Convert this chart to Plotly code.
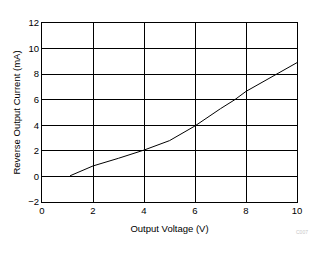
import plotly.graph_objects as go

voltage = [1.1, 2, 3, 4, 5, 6, 7, 7.56, 8, 9, 10]
current = [0.05, 0.82, 1.42, 2.06, 2.8, 3.95, 5.3, 6.0, 6.65, 7.78, 8.9]
x_ticks = [0, 2, 4, 6, 8, 10]
y_ticks = [-2, 0, 2, 4, 6, 8, 10, 12]

fig = go.Figure()
fig.add_trace(go.Scatter(x=voltage, y=current, mode="lines",
                         line=dict(color="black", width=1), showlegend=False))

font = dict(family="Liberation Sans, Arial, sans-serif", size=9.5, color="black")
fig.update_layout(
    width=326, height=254,
    margin=dict(l=42, r=29, t=23, b=52),
    paper_bgcolor="white", plot_bgcolor="white",
    font=font,
    xaxis=dict(range=[0, 10], tickvals=x_ticks, showgrid=True, gridcolor="black",
               gridwidth=1, showline=True, linecolor="black", linewidth=1, mirror=True,
               zeroline=False, ticks="", ticklen=0,
               title=dict(text="Output Voltage (V)", font=font, standoff=9)),
    yaxis=dict(range=[-2, 12], tickvals=y_ticks, showgrid=True, gridcolor="black",
               gridwidth=1, showline=True, linecolor="black", linewidth=1, mirror=True,
               zeroline=False, ticks="", ticklen=0,
               title=dict(text="Reverse Output Current (mA)", font=font, standoff=5)),
    annotations=[dict(text="C007", x=1.02, y=-0.17, xref="paper", yref="paper",
                      xanchor="center", yanchor="middle",
                      showarrow=False, font=dict(size=5, color="#c8c8c8"))],
)
fig.write_html("out.html")
